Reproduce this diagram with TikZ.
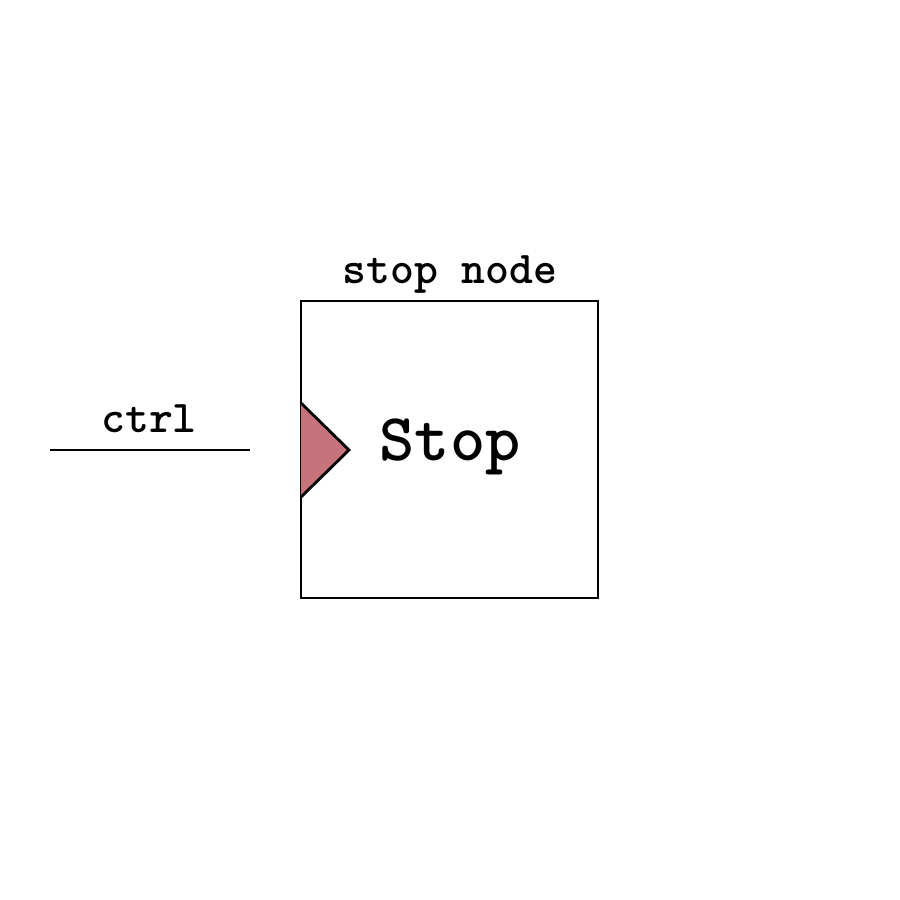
\documentclass[tikz,border=0pt]{standalone}
\usepackage{fontspec}
\definecolor{portred}{HTML}{C7737B}
\begin{document}
\begin{tikzpicture}[x=1pt,y=-1pt,
  lbl/.style={font=\ttfamily\bfseries\fontsize{45.5}{47}\selectfont, inner sep=0pt},
  big/.style={font=\ttfamily\bfseries\fontsize{67}{69}\selectfont, inner sep=0pt},
  wire/.style={line width=2.8pt}]
\useasboundingbox (0,0) rectangle (900,900);
\node[draw, line width=2.8pt, minimum width=297pt, minimum height=297pt, inner sep=0pt] (box) at (449.5,449.5) {};
\draw[line width=2.8pt, fill=portred, line join=miter] (301,403) coordinate (t1) -- (349,450) coordinate (t2) -- (301,497) coordinate (t3);
\node[big, anchor=base] (stop) at (450,460) {Stop};
\node[lbl, anchor=base] (title) at (450,283) {stop node};
\coordinate (c1) at (50,450);
\coordinate (c2) at (250,450);
\draw[wire] (c1) -- (c2);
\node[lbl, anchor=base] (ctrl) at (149,432) {ctrl};
\end{tikzpicture}
\end{document}
